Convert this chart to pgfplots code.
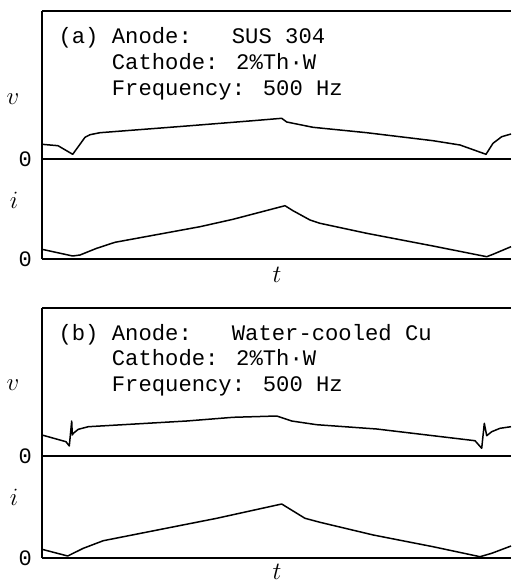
\documentclass[border=0pt]{standalone}
\usepackage{pgfplots}
\pgfplotsset{compat=1.18}
\usepackage{fontspec}
\newfontfamily\mono{Liberation Mono}
\begin{document}
\begin{tikzpicture}
\useasboundingbox (0,0) rectangle (511pt,-583pt);
\pgfplotsset{panel/.style={
  scale only axis, width=469pt, xmin=42, xmax=511, ymin=0,
  axis x line=box, axis y line=left,
  axis line style={-, line width=1.2pt},
  xtick=\empty, ytick=\empty, clip=false,
  anchor=south west},
  crv/.style={black, no marks, line width=1.5pt, line join=round}}
% ---------- panel (a)
\begin{axis}[panel, height=248pt, ymax=248, at={(42pt,-259pt)}]
\addplot[crv] coordinates {(42,114.7) (58,113.3) (72.7,104.7) (78,112) (85,121.7) (90,124.3) (100,126.3)
 (186.7,133) (253,138.3) (281.7,140.7) (286.7,137) (313,131.7) (366.7,126.3) (433,118.3)
 (460,114) (486,104.7) (490,111) (493,115.7) (501.7,122.3) (511,125)};
\addplot[crv] coordinates {(42,9.7) (72.7,3) (80,4) (96.7,10.7) (115,16.7) (200,32.3) (233,39.7)
 (285,53.3) (293,48.3) (310,39) (320,35.7) (366.7,25.7) (433,13) (486.7,2.3) (493,4.7) (511,12.3)};
\draw[line width=1.2pt] (axis cs:42,100) -- (axis cs:511,100);
\end{axis}
% ---------- panel (b)
\begin{axis}[panel, height=250pt, ymax=250, at={(42pt,-558pt)}]
\addplot[crv] coordinates {(42,123) (66,116.3) (69.3,112) (71.7,137) (72.3,123) (73.3,124.7) (78.3,128.7)
 (88.3,131.3) (186.7,137) (233,140.7) (276.7,142) (291.7,137) (316.7,133.3) (376.7,129)
 (433,122.3) (475,117.3) (481.7,109.7) (484.3,134.7) (486.7,122.3) (491.7,126.3) (500,129.7) (511,131.3)};
\addplot[crv] coordinates {(42,8.7) (67.7,2) (83.3,9.7) (103.3,17.3) (216.7,39.7) (281.7,54) (305,39.7)
 (320,35.7) (373.3,23) (433,11.3) (480,1.3) (491.7,4.7) (511,12)};
\draw[line width=1.2pt] (axis cs:42,102) -- (axis cs:511,102);
\end{axis}
% ---------- texts
\begin{scope}[every node/.style={inner sep=0pt, font=\mono\fontsize{22.2}{26}\selectfont}]
\node[anchor=base west] at (58.3pt,-43.3pt) {(a)};
\node[anchor=base west] at (111.7pt,-43.3pt) {Anode:};
\node[anchor=base west] at (231.7pt,-43.3pt) {SUS 304};
\node[anchor=base west] at (111.7pt,-69.3pt) {Cathode: 2\%Th·W};
\node[anchor=base west] at (111.7pt,-95.3pt) {Frequency: 500 Hz};
\node[anchor=base west] at (58.3pt,-340pt) {(b)};
\node[anchor=base west] at (111.7pt,-340pt) {Anode:};
\node[anchor=base west] at (231.7pt,-340pt) {Water-cooled Cu};
\node[anchor=base west] at (111.7pt,-365.5pt) {Cathode: 2\%Th·W};
\node[anchor=base west] at (111.7pt,-391pt) {Frequency: 500 Hz};
\end{scope}
\begin{scope}[every node/.style={inner sep=0pt, font=\mono\fontsize{22}{24}\selectfont}]
\node at (25.3pt,-159.5pt) {0};
\node at (25.3pt,-259pt) {0};
\node at (25.3pt,-456pt) {0};
\node at (25.3pt,-558pt) {0};
\end{scope}
\begin{scope}[every node/.style={inner sep=0pt, font=\fontsize{23}{26}\selectfont}]
\node at (13pt,-99pt) {$v$};
\node at (14pt,-200pt) {$i$};
\node at (277pt,-275pt) {$t$};
\node at (13pt,-385pt) {$v$};
\node at (14pt,-497pt) {$i$};
\node at (277pt,-572pt) {$t$};
\end{scope}
\end{tikzpicture}
\end{document}
